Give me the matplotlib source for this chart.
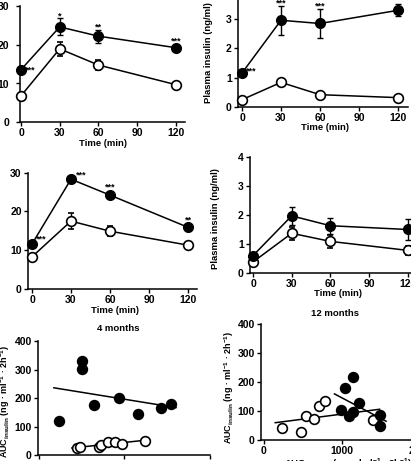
import numpy as np
import matplotlib
matplotlib.use("Agg")
import matplotlib.pyplot as plt

plt.rcParams['font.family'] = ['Liberation Sans', 'DejaVu Sans']
plt.rcParams['font.weight'] = 'bold'
plt.rcParams['mathtext.default'] = 'regular'

# ---------------- data ----------------
times = [0, 30, 60, 120]
time_ticks = [0, 30, 60, 90, 120]

# Panel A: top-left (glucose-like scale 0-30)
a_filled = [13.6, 24.7, 22.3, 19.3]
a_filled_err = [0.4, 2.2, 1.7, 0.6]
a_open = [6.8, 19.0, 14.8, 9.7]
a_open_err = [0.4, 1.9, 1.2, 0.4]
a_stars = ['***', '*', '**', '***']

# Panel B: top-right plasma insulin (ng/ml)
b_filled = [1.16, 2.96, 2.85, 3.3]
b_filled_err = [0.08, 0.5, 0.48, 0.2]
b_open = [0.25, 0.84, 0.42, 0.32]
b_open_err = [0.05, 0.1, 0.05, 0.05]
b_stars = ['***', '***', '***', '']

# Panel C: middle-left (0-30)
c_filled = [11.6, 28.3, 24.2, 15.9]
c_filled_err = [0.5, 0.8, 0.8, 0.5]
c_open = [8.3, 17.5, 14.9, 11.3]
c_open_err = [0.5, 2.0, 1.3, 0.5]
c_stars = ['***', '***', '***', '**']

# Panel D: middle-right plasma insulin (ng/ml)
d_filled = [0.6, 1.97, 1.63, 1.5]
d_filled_err = [0.05, 0.3, 0.28, 0.35]
d_open = [0.38, 1.37, 1.09, 0.78]
d_open_err = [0.05, 0.23, 0.22, 0.15]

# Panel E: 4 months, AUC glucose vs AUC insulin
e_filled_x = [234, 503, 503, 641, 940, 1163, 1431, 1542]
e_filled_y = [119, 329, 302, 176, 200, 145, 165, 180]
e_open_x = [445, 484, 705, 726, 806, 894, 969, 1235]
e_open_y = [25, 29, 27, 34, 47, 47, 40, 49]

# Panel F: 12 months
f_filled_x = [1034, 1138, 985, 1086, 1141, 1220, 1486, 1485]
f_filled_y = [178, 216, 103, 82, 98, 129, 85, 48]
f_open_x = [227, 473, 545, 642, 711, 787, 1403]
f_open_y = [41, 29, 83, 73, 118, 134, 70]

auc_ticks_y = [0, 100, 200, 300, 400]
auc_ticks_x = [0, 1000, 2000]

# ---------------- figure ----------------
W, H = 411, 461
fig = plt.figure(figsize=(W / 100, H / 100), dpi=100)

TICK_FS = 7.5
LAB_FS = 6.8
STAR_FS = 6.5
LW = 1.1


def add_ax(left_px, right_px, top_px, bottom_px):
    return fig.add_axes([left_px / W, 1 - bottom_px / H,
                         (right_px - left_px) / W, (bottom_px - top_px) / H])


def style(ax, ypad=1.5):
    for s in ['top', 'right']:
        ax.spines[s].set_visible(False)
    for s in ['left', 'bottom']:
        ax.spines[s].set_linewidth(LW)
    ax.tick_params(direction='out', length=3, width=1.0, labelsize=TICK_FS,
                   pad=1.5)
    ax.tick_params(axis='y', pad=ypad)
    for lab in ax.get_xticklabels() + ax.get_yticklabels():
        lab.set_fontweight('bold')
    ax.patch.set_alpha(0)


def time_panel(left, right, x0, ppx, origin, ppy, ymax, yticks,
               filled, ferr, opn, oerr, ypad=1.5):
    ax = add_ax(left, right, origin - ymax * ppy, origin)
    ax.set_xlim((left - x0) / ppx, (right - x0) / ppx)
    ax.set_ylim(0, ymax)
    ax.errorbar(times, opn, yerr=oerr, fmt='-o', color='black', lw=LW,
                ms=7, mfc='white', mec='black', mew=1.2, capsize=2,
                elinewidth=1.0, capthick=1.0, clip_on=False, zorder=3)
    ax.errorbar(times, filled, yerr=ferr, fmt='-o', color='black', lw=LW,
                ms=7, mfc='black', mec='black', mew=1.0, capsize=2,
                elinewidth=1.0, capthick=1.0, clip_on=False, zorder=4)
    ax.set_xticks(time_ticks)
    ax.set_yticks(yticks)
    style(ax, ypad)
    return ax


def star(ax, x, y, text, dx, dy_up, ha='center'):
    """dx, dy_up in pixels (dy_up positive = upwards)."""
    if text:
        ax.annotate(text, xy=(x, y), xytext=(dx / 1.389, dy_up / 1.389),
                    textcoords='offset points', ha=ha, va='center',
                    fontsize=STAR_FS, fontweight='bold', annotation_clip=False)


def px_text(x, y, s, **kw):
    fig.text(x / W, 1 - y / H, s, ha='center', va='center', **kw)


# Panel A
axA = time_panel(20, 185, 21, 1.29, 122, 3.85, 30, [0, 10, 20, 30],
                 a_filled, a_filled_err, a_open, a_open_err, ypad=5)
star(axA, times[0], a_filled[0], a_stars[0], 4, 0, ha='left')
star(axA, times[1], a_filled[1], a_stars[1], 0, 11)
star(axA, times[2], a_filled[2], a_stars[2], 0, 9)
star(axA, times[3], a_filled[3], a_stars[3], 0, 7)
px_text(103, 143, 'Time (min)', fontsize=LAB_FS, fontweight='bold')

# Panel B
axB = time_panel(238, 408, 242, 1.3, 107, 29.3, 4, [0, 1, 2, 3, 4],
                 b_filled, b_filled_err, b_open, b_open_err)
star(axB, times[0], b_filled[0], b_stars[0], 4, 2, ha='left')
star(axB, times[1], b_filled[1], b_stars[1], 0, 17)
star(axB, times[2], b_filled[2], b_stars[2], 0, 17)
px_text(325, 127, 'Time (min)', fontsize=LAB_FS, fontweight='bold')
px_text(208, 53, 'Plasma insulin (ng/ml)', fontsize=LAB_FS,
        fontweight='bold', rotation=90)

# Panel C
axC = time_panel(28, 197, 32, 1.3, 289, 3.88, 30, [0, 10, 20, 30],
                 c_filled, c_filled_err, c_open, c_open_err)
star(axC, times[0], c_filled[0], c_stars[0], 4, 5, ha='left')
star(axC, times[1], c_filled[1], c_stars[1], 5, 4, ha='left')
star(axC, times[2], c_filled[2], c_stars[2], 0, 8)
star(axC, times[3], c_filled[3], c_stars[3], 0, 7)
px_text(115, 310, 'Time (min)', fontsize=LAB_FS, fontweight='bold')

# Panel D
axD = time_panel(250, 420, 253, 1.29, 273, 29.0, 4, [0, 1, 2, 3, 4],
                 d_filled, d_filled_err, d_open, d_open_err)
px_text(338, 293, 'Time (min)', fontsize=LAB_FS, fontweight='bold')
px_text(215, 219, 'Plasma insulin (ng/ml)', fontsize=LAB_FS,
        fontweight='bold', rotation=90)

# Titles
px_text(118, 328, '4 months', fontsize=LAB_FS, fontweight='bold')
px_text(335, 313, '12 months', fontsize=LAB_FS, fontweight='bold')


def scatter_panel(left, right, x0, ppx, origin, ppy, fx, fy, ox, oy, pad):
    ax = add_ax(left, right, origin - 400 * ppy, origin)
    ax.set_xlim((left - x0) / ppx, (right - x0) / ppx)
    ax.set_ylim(0, 400)
    for xs, ys, fc in [(ox, oy, 'white'), (fx, fy, 'black')]:
        xs = np.asarray(xs, float)
        ys = np.asarray(ys, float)
        k, b = np.polyfit(xs, ys, 1)
        lx = np.array([xs.min() - pad, xs.max() + pad])
        ax.plot(lx, k * lx + b, color='black', lw=LW, zorder=2)
        ax.plot(xs, ys, 'o', ms=7, mfc=fc, mec='black', mew=1.2,
                zorder=3, clip_on=False)
    ax.set_xticks(auc_ticks_x)
    ax.set_yticks(auc_ticks_y)
    style(ax)
    return ax


axE = scatter_panel(38, 210, 39, 0.087, 455, 0.285,
                    e_filled_x, e_filled_y, e_open_x, e_open_y, 60)
px_text(5, 401, r'AUC$_{insulin}$ (ng · ml$^{-1}$ · 2h$^{-1}$)',
        fontsize=6.5, fontweight='bold', rotation=90)

axF = scatter_panel(261, 420, 264, 0.084, 440, 0.29,
                    f_filled_x, f_filled_y, f_open_x, f_open_y, 80)
px_text(229, 387, r'AUC$_{insulin}$ (ng · ml$^{-1}$ · 2h$^{-1}$)',
        fontsize=6.5, fontweight='bold', rotation=90)
px_text(348, 465, r'AUC$_{glucose}$ (mmol · l$^{-1}$ · 2h$^{-1}$)',
        fontsize=LAB_FS, fontweight='bold')

fig.savefig('out.png', dpi=100)
